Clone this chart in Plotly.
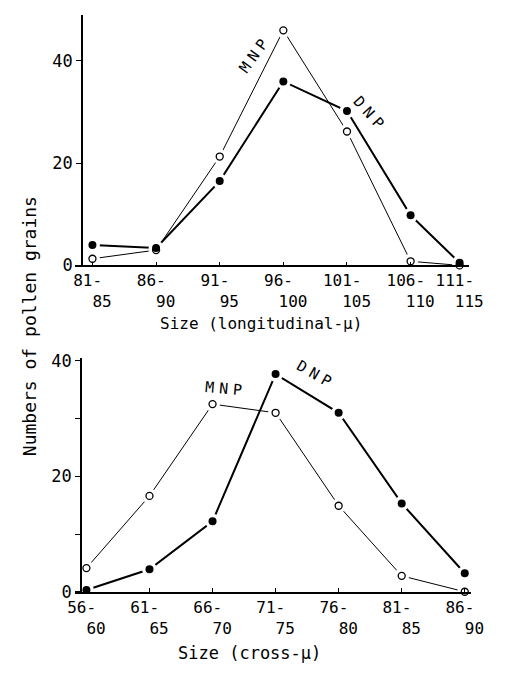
import plotly.graph_objects as go

# ---------------- data ----------------
long_lo = ["81", "86", "91", "96", "101", "106", "111"]
long_hi = ["85", "90", "95", "100", "105", "110", "115"]
long_pos = [0, 1, 2, 3, 4, 5, 5.77]          # class positions on the original axis
long_dnp = [4.0, 3.4, 16.5, 36.0, 30.2, 9.8, 0.5]
long_mnp = [1.3, 3.0, 21.3, 46.0, 26.2, 0.8, 0.0]

cross_lo = ["56", "61", "66", "71", "76", "81", "86"]
cross_hi = ["60", "65", "70", "75", "80", "85", "90"]
cross_pos = [0, 1, 2, 3, 4, 5, 6]
cross_dnp = [0.3, 3.9, 12.2, 37.7, 31.0, 15.3, 3.2]
cross_mnp = [4.1, 16.6, 32.5, 31.0, 14.9, 2.75, 0.0]

NB = "\u00a0"
FONT = "DejaVu Sans Mono"
PAGE_MARGIN = 8                      # default body margin of the html page
W, H = 516 - 2 * PAGE_MARGIN, 676 - 2 * PAGE_MARGIN


def px(x):
    return (x - PAGE_MARGIN) / W


def py(y):
    return 1 - (y - PAGE_MARGIN) / H


def ticktext(lo, hi):
    return [f"{a}-{NB}<br>{NB*2}{b}" for a, b in zip(lo, hi)]


def spaced(t, sp=5):
    return f'<span style="letter-spacing:{sp}px">{t}</span>'


fig = go.Figure()


def add_panel(xa, ya, pos, dnp, mnp):
    fig.add_trace(go.Scatter(x=pos, y=mnp, mode="lines", xaxis=xa, yaxis=ya,
                             line=dict(color="black", width=1), cliponaxis=False,
                             showlegend=False, hoverinfo="skip"))
    fig.add_trace(go.Scatter(x=pos, y=dnp, mode="lines", xaxis=xa, yaxis=ya,
                             line=dict(color="black", width=2), cliponaxis=False,
                             showlegend=False, hoverinfo="skip"))
    for ser in (mnp, dnp):
        fig.add_trace(go.Scatter(x=pos, y=ser, mode="markers", xaxis=xa, yaxis=ya,
                                 marker=dict(color="white", size=15, line=dict(width=0)),
                                 cliponaxis=False, showlegend=False, hoverinfo="skip"))
    fig.add_trace(go.Scatter(x=pos, y=mnp, mode="markers", xaxis=xa, yaxis=ya, name="MNP",
                             marker=dict(symbol="circle", color="white", size=7,
                                         line=dict(color="black", width=1.3)),
                             cliponaxis=False, showlegend=False))
    fig.add_trace(go.Scatter(x=pos, y=dnp, mode="markers", xaxis=xa, yaxis=ya, name="DNP",
                             marker=dict(symbol="circle", color="black", size=8,
                                         line=dict(color="black", width=0)),
                             cliponaxis=False, showlegend=False))


add_panel("x", "y", long_pos, long_dnp, long_mnp)
add_panel("x2", "y2", cross_pos, cross_dnp, cross_mnp)

tickfont = dict(family=FONT, size=16, color="black")

xcommon = dict(showline=True, linecolor="black", linewidth=1.5, showgrid=False,
               zeroline=False, ticks="inside", ticklen=4, tickcolor="black",
               tickwidth=1.2, tickfont=tickfont, tickangle=0)
ycommon = dict(showline=True, linecolor="black", linewidth=1.5, showgrid=False,
               zeroline=False, ticks="outside", ticklen=5, tickcolor="black",
               tickwidth=1.2, tickfont=dict(family=FONT, size=17, color="black"),
               anchor="free")

fig.update_layout(
    width=W, height=H,
    margin=dict(l=0, r=0, t=0, b=0),
    paper_bgcolor="white", plot_bgcolor="white",
    font=dict(family=FONT, color="black"),
    xaxis=dict(domain=[px(70), px(482)], range=[-0.27, 5.92], anchor="y",
               tickvals=long_pos, ticktext=ticktext(long_lo, long_hi), **xcommon),
    yaxis=dict(domain=[py(265), py(8)], range=[0, 49], position=px(77),
               tickvals=[0, 20, 40], **ycommon),
    xaxis2=dict(domain=[px(70), px(484)], range=[-0.177, 6.1], anchor="y2",
                tickvals=cross_pos, ticktext=ticktext(cross_lo, cross_hi), **xcommon),
    yaxis2=dict(domain=[py(600), py(360)], range=[0, 40.5], position=px(76),
                tickvals=[0, 10, 20, 30, 40], ticktext=["0", "", "20", "", "40"], **ycommon),
)

annots = [
    dict(text="Numbers of pollen grains", x=px(22), y=py(327), textangle=-90, font=dict(size=18)),
    dict(text="Size (longitudinal-\u03bc)", x=px(264), y=py(325), font=dict(size=16)),
    dict(text="Size (cross-\u03bc)", x=px(252), y=py(663), font=dict(size=17)),
    dict(text=spaced("MNP"), x=px(258), y=py(48), textangle=-54, font=dict(size=15)),
    dict(text=spaced("DNP"), x=px(378), y=py(110), textangle=48, font=dict(size=15)),
    dict(text=spaced("MNP"), x=px(228), y=py(392), textangle=5, font=dict(size=15)),
    dict(text=spaced("DNP"), x=px(322), y=py(378), textangle=30, font=dict(size=15)),
]
for a in annots:
    a.update(showarrow=False, xanchor="center", yanchor="middle", xref="paper", yref="paper")
    a["font"] = dict(family=FONT, color="black", **a["font"])
    fig.add_annotation(**a)

fig.write_html("out.html", config={"displayModeBar": False})
